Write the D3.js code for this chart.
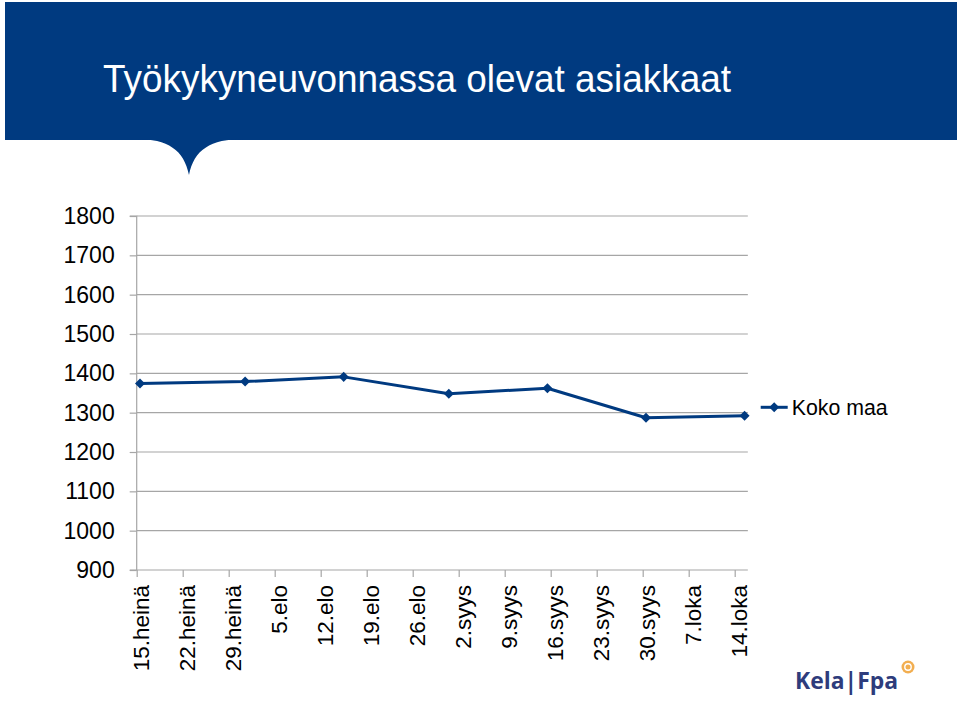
<!DOCTYPE html>
<html><head><meta charset="utf-8">
<script src="https://cdn.jsdelivr.net/npm/d3@7"></script>
<style>
html,body{margin:0;padding:0;background:#fff;}
svg{display:block;font-family:"Liberation Sans",Arial,sans-serif;}
</style></head>
<body>
<svg id="chart" width="960" height="701"></svg>
<script>
const title = "Työkykyneuvonnassa olevat asiakkaat";
const categories = ["15.heinä","22.heinä","29.heinä","5.elo","12.elo","19.elo","26.elo","2.syys","9.syys","16.syys","23.syys","30.syys","7.loka","14.loka"];
const seriesName = "Koko maa";
const seriesDates = ["2013-07-15","2013-07-31","2013-08-15","2013-08-31","2013-09-15","2013-09-30","2013-10-15"];
const seriesValues = [1374, 1379, 1391, 1348, 1362, 1287, 1292];
const yTicks = [900, 1000, 1100, 1200, 1300, 1400, 1500, 1600, 1700, 1800];
const monthIndex = {"heinä":6, "elo":7, "syys":8, "loka":9};

const svg = d3.select("#chart");
const navy = "#003A80";
const font = "'Liberation Sans',Arial,sans-serif";

// header banner with speech-bubble pointer
svg.append("rect").attr("x",5).attr("y",2).attr("width",952).attr("height",138).attr("fill",navy);
svg.append("path")
  .attr("d","M136,139 C168,139 184,150 189,175 C194,150 210,139 244,139 Z")
  .attr("fill",navy);
svg.append("text").attr("x",103).attr("y",92)
  .attr("fill","#fff").attr("font-size",38)
  .attr("textLength",628).attr("lengthAdjust","spacingAndGlyphs")
  .text(title);

const left = 136.7;
const parseDate = d3.utcParse("%Y-%m-%d");
const tickDate = s => { const [d,m] = s.split("."); return new Date(Date.UTC(2013, monthIndex[m], +d)); };
const tickDates = categories.map(tickDate);
const dStart = tickDates[0];
const dEnd = d3.utcDay.offset(tickDates[tickDates.length-1], 2);
const x = d3.scaleUtc().domain([dStart, dEnd]).range([left, left + 46*(d3.utcDay.count(dStart,dEnd))/7]);
const right = x(dEnd);
const y = d3.scaleLinear().domain([900,1800]).range([570,216]);
const halfDay = d => d3.utcHour.offset(d, 12);

// gridlines
svg.append("g").selectAll("line").data(yTicks.filter(t=>t>900)).join("line")
  .attr("x1",left).attr("x2",right)
  .attr("y1",d=>y(d)).attr("y2",d=>y(d))
  .attr("stroke","#a6a6a6").attr("stroke-width",1.2);

// y axis
const yAxis = d3.axisLeft(y).tickValues(yTicks).tickSize(7).tickPadding(14).tickFormat(d3.format("d"));
const gy = svg.append("g").attr("transform",`translate(${left},0)`).call(yAxis);
gy.select(".domain").attr("stroke","#a6a6a6").attr("stroke-width",1.2).attr("d",`M-7,${y(900)}H0V${y(1800)}H-7`);
gy.selectAll(".tick line").attr("stroke","#a6a6a6").attr("stroke-width",1.2);
gy.selectAll(".tick text").attr("font-size",23).attr("fill","#000")
  .attr("font-family",font).attr("x",-22);

// x axis
const xAxis = d3.axisBottom(x).tickValues(tickDates).tickFormat((d,i)=>categories[i]).tickSize(7).tickSizeOuter(0).tickPadding(0);
const gx = svg.append("g").attr("transform",`translate(0,${y(900)})`).call(xAxis);
gx.select(".domain").attr("stroke","#a6a6a6").attr("stroke-width",1.2).attr("d",`M${left},0H${right}`);
gx.selectAll(".tick line").attr("stroke","#a6a6a6").attr("stroke-width",1.2);
gx.selectAll(".tick text")
  .attr("font-size",22.5).attr("fill","#000")
  .attr("font-family",font)
  .attr("text-anchor","end")
  .attr("transform","rotate(-90)")
  .attr("x",-15).attr("y",3.5).attr("dy","0.35em");

// series line
const pts = seriesValues.map((v,i)=>({date: halfDay(parseDate(seriesDates[i])), value: v}));
const line = d3.line().x(d=>x(d.date)).y(d=>y(d.value));
svg.append("path").datum(pts).attr("d",line)
  .attr("fill","none").attr("stroke",navy).attr("stroke-width",3).attr("stroke-linejoin","round");
const diamond = d3.symbol().type(d3.symbolDiamond2).size(64);
svg.append("g").selectAll("path").data(pts).join("path")
  .attr("d",diamond)
  .attr("transform",d=>`translate(${x(d.date)},${y(d.value)})`)
  .attr("fill",navy);

// legend
const lg = svg.append("g").attr("transform","translate(760.7,407.3)");
lg.append("line").attr("x1",0).attr("x2",27).attr("stroke",navy).attr("stroke-width",3);
lg.append("path").attr("d",diamond).attr("transform","translate(13.5,0)").attr("fill",navy);
lg.append("text").attr("x",31).attr("y",8).attr("font-size",22).attr("fill","#000")
  .attr("textLength",96).attr("lengthAdjust","spacingAndGlyphs").text(seriesName);

// logo
svg.append("text").attr("x",795).attr("y",689).attr("font-size",24).attr("font-weight","bold")
  .attr("fill","#2E3C7C").attr("font-family","'Open Sans','Liberation Sans',sans-serif")
  .attr("textLength",103).attr("lengthAdjust","spacingAndGlyphs").text("Kela|Fpa");
svg.append("circle").attr("cx",908).attr("cy",667).attr("r",6.5).attr("fill","#F2AE50");
svg.append("circle").attr("cx",908).attr("cy",667).attr("r",3.2).attr("fill","none").attr("stroke","#fff").attr("stroke-width",1.4);
</script>
</body></html>
